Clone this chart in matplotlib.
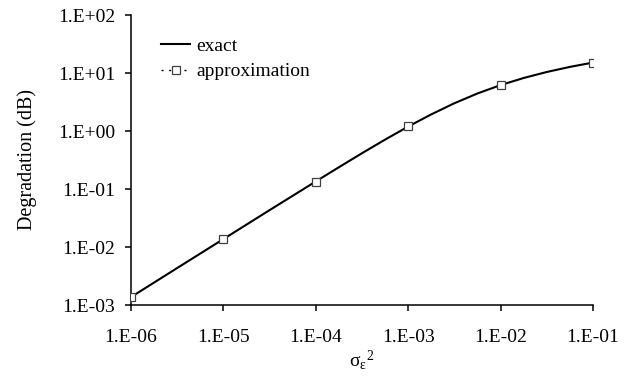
import matplotlib
matplotlib.use("Agg")
import matplotlib.pyplot as plt
from matplotlib.lines import Line2D
from matplotlib.ticker import FixedLocator, FixedFormatter

plt.rcParams['font.family'] = ['Liberation Serif', 'DejaVu Serif']
plt.rcParams['mathtext.fontset'] = 'custom'
plt.rcParams['mathtext.rm'] = 'Liberation Serif'
plt.rcParams['mathtext.it'] = 'Liberation Serif:italic'

# exact curve, read at half / quarter decades
sigma_exact = [1e-6, 3.16e-6, 1e-5, 3.16e-5, 1e-4, 1.78e-4, 3.16e-4, 5.62e-4,
               1e-3, 1.78e-3, 3.16e-3, 5.62e-3, 1e-2, 1.78e-2, 3.16e-2,
               5.62e-2, 1e-1]
degr_exact = [0.00137, 0.00434, 0.0137, 0.0432, 0.135, 0.2375, 0.414, 0.710,
              1.194, 1.937, 3.01, 4.437, 6.19, 8.21, 10.41, 12.74, 15.13]

# approximation markers
sigma_approx = [1e-6, 1e-5, 1e-4, 1e-3, 1e-2, 1e-1]
degr_approx = [0.00138, 0.0137, 0.134, 1.21, 6.2, 14.9]

x_ticks = [1e-6, 1e-5, 1e-4, 1e-3, 1e-2, 1e-1]
x_tick_labels = ['1.E-06', '1.E-05', '1.E-04', '1.E-03', '1.E-02', '1.E-01']
y_ticks = [1e-3, 1e-2, 1e-1, 1e0, 1e1, 1e2]
y_tick_labels = ['1.E-03', '1.E-02', '1.E-01', '1.E+00', '1.E+01', '1.E+02']

fig = plt.figure(figsize=(6.24, 3.91), dpi=100)
ax = fig.add_axes([131/624, 1 - 305/391, (593-131)/624, (305-15)/391])

ax.plot(sigma_exact, degr_exact, color='black', lw=1.5, zorder=3)
ax.plot(sigma_approx, degr_approx, ls='none', marker='s', ms=6,
        mfc='white', mec='#404040', mew=0.9, zorder=4)

ax.set_xscale('log')
ax.set_yscale('log')
ax.set_xlim(1e-6, 1e-1)
ax.set_ylim(1e-3, 1e2)
ax.xaxis.set_major_locator(FixedLocator(x_ticks))
ax.xaxis.set_major_formatter(FixedFormatter(x_tick_labels))
ax.yaxis.set_major_locator(FixedLocator(y_ticks))
ax.yaxis.set_major_formatter(FixedFormatter(y_tick_labels))
ax.minorticks_off()

for s in ['top', 'right']:
    ax.spines[s].set_visible(False)
for s in ['left', 'bottom']:
    ax.spines[s].set_linewidth(1.1)
ax.tick_params(axis='both', which='major', direction='out', length=4.5,
               width=1.1, labelsize=14)
ax.tick_params(axis='y', pad=7)
ax.tick_params(axis='x', pad=13)

ax.set_ylabel('Degradation (dB)', fontsize=14.5, labelpad=15)
ax.set_xlabel(r'σ$_\mathregular{ε}$$^\mathregular{2}$', fontsize=14, labelpad=1)

handles = [Line2D([], [], color='black', lw=1.5),
           Line2D([], [], color='black', lw=1, ls=(0, (1.5, 4)), marker='s',
                  ms=6, mfc='white', mec='#404040', mew=0.9)]
fig.legend(handles, ['exact', 'approximation'], loc='upper left',
           bbox_to_anchor=(161/624, 1 - 37/391), frameon=False, fontsize=14,
           handlelength=1.5, handletextpad=0.3, labelspacing=0.42,
           borderpad=0, borderaxespad=0)

fig.savefig('out.png', dpi=100)
